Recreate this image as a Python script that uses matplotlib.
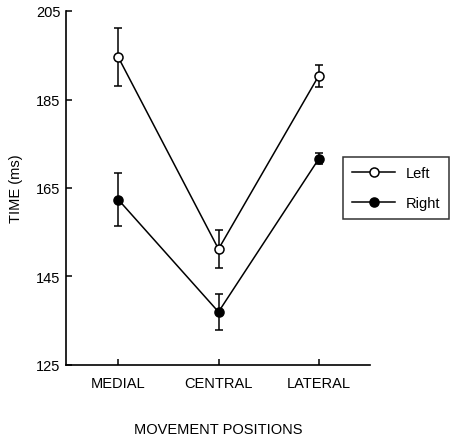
import matplotlib
matplotlib.use('Agg')
import matplotlib.pyplot as plt
from matplotlib.lines import Line2D

plt.rcParams['font.family'] = ['Liberation Sans', 'DejaVu Sans']
plt.rcParams['font.size'] = 10.5

positions = ['MEDIAL', 'CENTRAL', 'LATERAL']
left_mean = [194.6, 151.2, 190.4]
left_err = [6.6, 4.3, 2.5]
right_mean = [162.4, 137.0, 171.6]
right_err = [5.9, 4.0, 1.2]
y_ticks = [125, 145, 165, 185, 205]

fig = plt.figure(figsize=(4.52, 4.39), dpi=100)
ax = fig.add_axes([66/452, 1 - 366/439, (370 - 66)/452, (366 - 12)/439])

x = range(len(positions))
ax.errorbar(x, left_mean, yerr=left_err, color='black', lw=1.1, elinewidth=1.1,
            capsize=3, capthick=1.1, marker='o', ms=6.5, mfc='white', mec='black',
            mew=1.1)
ax.errorbar(x, right_mean, yerr=right_err, color='black', lw=1.1, elinewidth=1.1,
            capsize=3, capthick=1.1, marker='o', ms=6.5, mfc='black', mec='black',
            mew=1.1)

ax.set_xlim(-0.52, 2.51)
ax.set_ylim(125, 205)
ax.set_yticks(y_ticks)
ax.set_xticks(list(x))
ax.set_xticklabels(positions)
ax.tick_params(direction='in', length=4, width=1.1)
ax.tick_params(axis='x', pad=8)
ax.tick_params(axis='y', pad=4)
for s in ['top', 'right']:
    ax.spines[s].set_visible(False)
for s in ['left', 'bottom']:
    ax.spines[s].set_linewidth(1.2)

ax.set_ylabel('TIME (ms)', labelpad=9)
ax.set_xlabel('MOVEMENT POSITIONS', labelpad=23)

handles = [
    Line2D([], [], color='black', lw=1.1, marker='o', ms=6.5, mfc='white', mec='black', mew=1.1),
    Line2D([], [], color='black', lw=1.1, marker='o', ms=6.5, mfc='black', mec='black', mew=1.1),
]
leg = fig.legend(handles, ['Left', 'Right'], loc='upper left',
                 bbox_to_anchor=(343/452, 1 - 158/439),
                 frameon=True, fancybox=False, edgecolor='black', handlelength=3.0,
                 borderpad=0.6, labelspacing=1.1, handletextpad=0.7, borderaxespad=0)
leg.get_frame().set_linewidth(1.1)

fig.savefig('out.png', dpi=100)
